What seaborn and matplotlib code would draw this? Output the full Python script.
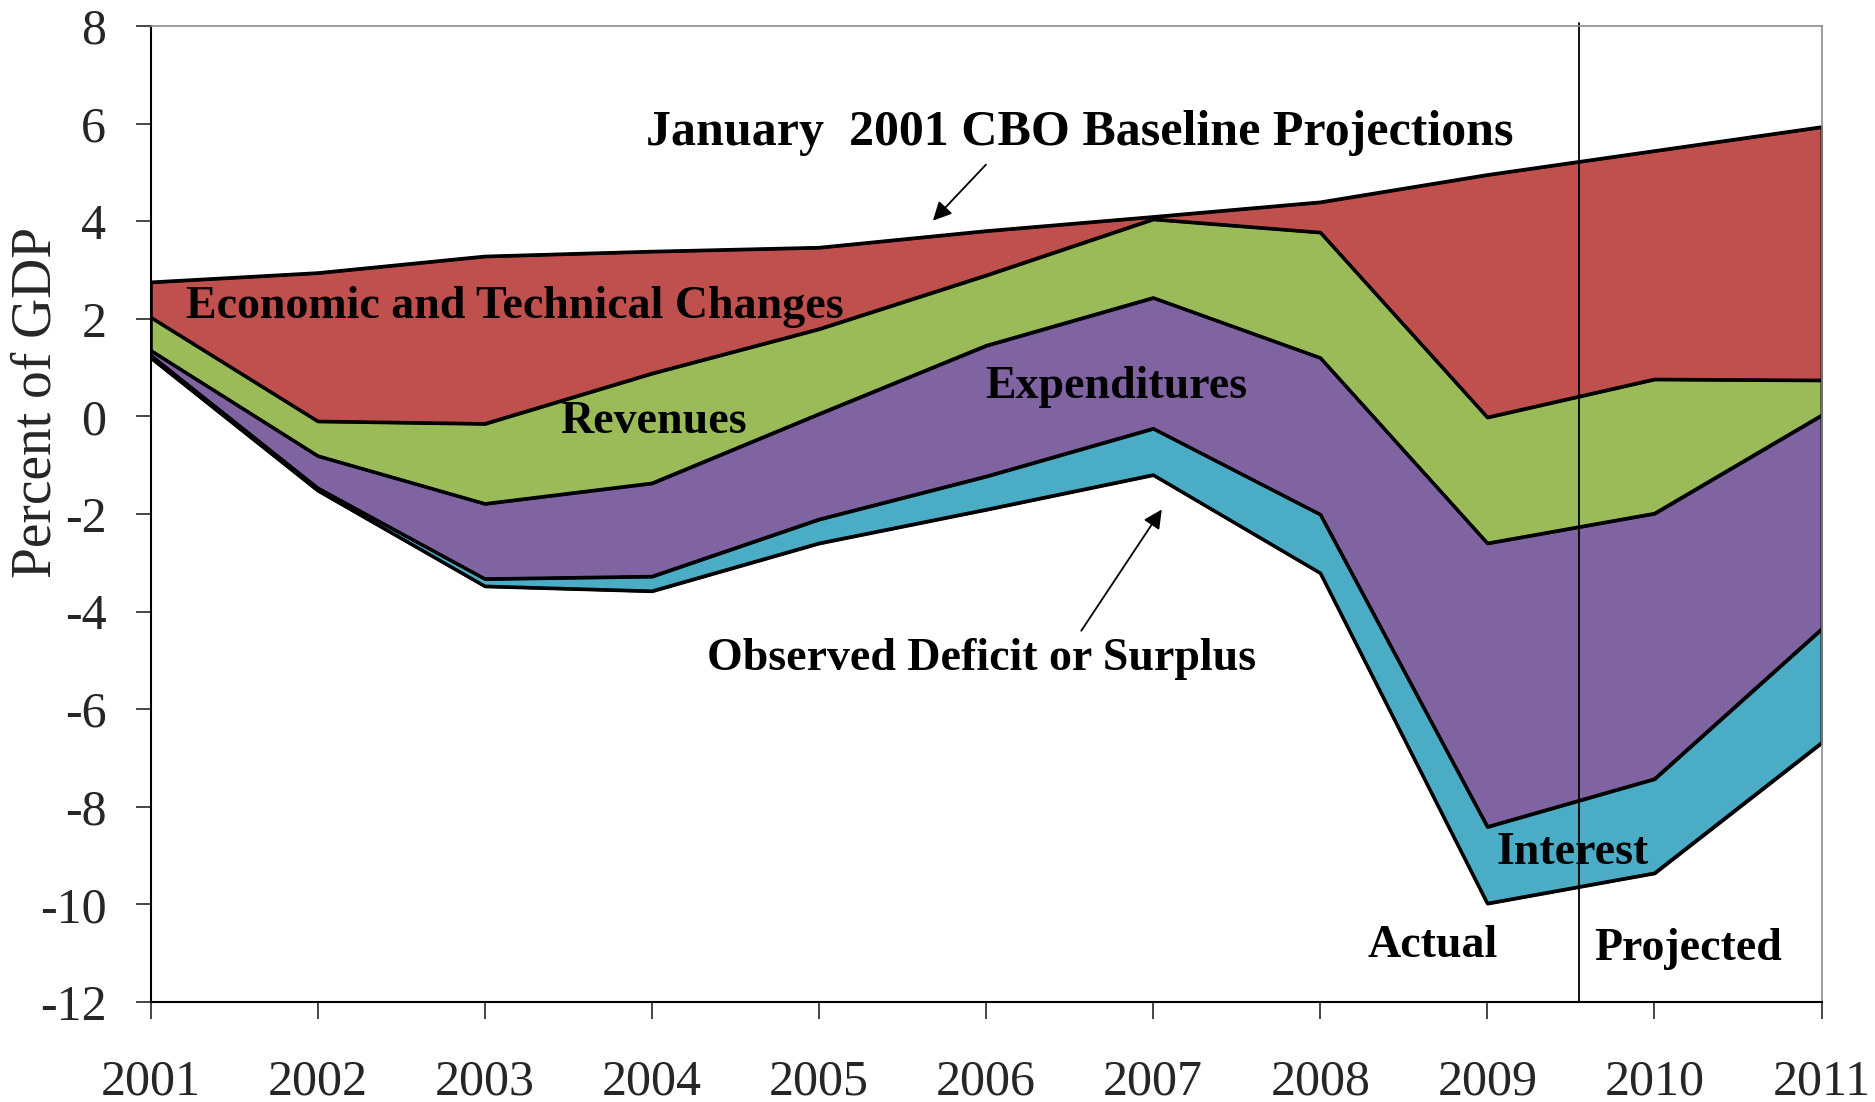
import numpy as np
import pandas as pd
import matplotlib
matplotlib.use('Agg')
import matplotlib.pyplot as plt
import seaborn as sns


# Data (percent of GDP)
years = [2001, 2002, 2003, 2004, 2005, 2006, 2007, 2008, 2009, 2010, 2011]
baseline = [2.75, 2.94, 3.28, 3.38, 3.46, 3.80, 4.09, 4.39, 4.95, 5.44, 5.93]
after_econ = [2.03, -0.10, -0.15, 0.88, 1.79, 2.89, 4.04, 3.77, -0.02, 0.76, 0.74]
after_revenues = [1.35, -0.81, -1.79, -1.37, 0.05, 1.45, 2.43, 1.20, -2.60, -1.99, 0.02]
after_expenditures = [1.25, -1.47, -3.33, -3.28, -2.11, -1.23, -0.25, -2.01, -8.41, -7.43, -4.36]
observed = [1.20, -1.52, -3.48, -3.58, -2.60, -1.91, -1.20, -3.21, -9.98, -9.36, -6.69]

band_names = ['Economic and Technical Changes', 'Revenues', 'Expenditures', 'Interest']
band_colors = ['#C0504D', '#9BBB59', '#8064A2', '#4BACC6']
y_ticks = list(range(-12, 9, 2))

df = pd.DataFrame({
    'year': years,
    'baseline': baseline,
    'after_econ': after_econ,
    'after_revenues': after_revenues,
    'after_expenditures': after_expenditures,
    'observed': observed,
})
bounds = ['baseline', 'after_econ', 'after_revenues', 'after_expenditures', 'observed']

# Set up plotting aesthetics
sns.set_style('white')
plt.rcParams['font.family'] = ['Liberation Serif', 'DejaVu Serif']
plt.rcParams['axes.unicode_minus'] = False

fig = plt.figure(figsize=(18.75, 11.02), dpi=100)
ax = fig.add_axes([0.0804, 0.0907, 0.8911, 0.8857])

# Stacked bands between successive boundary lines
for i, color in enumerate(band_colors):
    ax.fill_between(df['year'], df[bounds[i]], df[bounds[i + 1]],
                    facecolor=color, edgecolor='black', linewidth=2.2)

for col in bounds:
    sns.lineplot(data=df, x='year', y=col, color='black', linewidth=2.4, ax=ax, legend=False)

if ax.get_legend() is not None:
    ax.get_legend().remove()

# Actual / projected divider
ax.axvline(2009.55, ymin=0, ymax=1.003, color='black', linewidth=1.3, clip_on=False)

ax.set_xlim(2001, 2011)
ax.set_ylim(-12, 8)
ax.set_xticks(years)
ax.set_yticks(y_ticks)
ax.set_xticklabels([str(y) for y in years])
ax.set_yticklabels([str(t) for t in y_ticks])
ax.tick_params(axis='x', direction='out', length=12, width=1.2, pad=29, labelsize=36, bottom=True)
ax.tick_params(axis='y', direction='out', length=11, width=1.2, pad=21, labelsize=36, left=True)

ax.set_xlabel('')
ax.set_ylabel('Percent of GDP', fontsize=40)
ax.yaxis.label.set_verticalalignment('center')
ax.yaxis.set_label_coords(-0.0685, 0.614)

for side in ['left', 'bottom']:
    ax.spines[side].set_color('black')
    ax.spines[side].set_linewidth(1.5)
for side in ['top', 'right']:
    ax.spines[side].set_color('#8C8C8C')
    ax.spines[side].set_linewidth(1.2)

# Annotations
bold = dict(fontweight='bold', ha='center', va='center', color='black')
ax.text(2006.56, 5.81, 'January  2001 CBO Baseline Projections', fontsize=36, **bold)
ax.annotate('', xy=(2005.67, 3.97), xytext=(2006.01, 5.20),
            arrowprops=dict(arrowstyle='-|>', color='black', lw=1.3, mutation_scale=28))
ax.text(2003.18, 2.25, 'Economic and Technical Changes', fontsize=33, **bold)
ax.text(2004.01, -0.12, 'Revenues', fontsize=33, **bold)
ax.text(2006.78, 0.61, 'Expenditures', fontsize=33, **bold)
ax.text(2005.97, -4.98, 'Observed Deficit or Surplus', fontsize=33, **bold)
ax.annotate('', xy=(2007.06, -1.86), xytext=(2006.56, -4.44),
            arrowprops=dict(arrowstyle='-|>', color='black', lw=1.3, mutation_scale=28))
ax.text(2009.51, -8.95, 'Interest', fontsize=33, **bold)
ax.text(2008.67, -10.86, 'Actual', fontsize=33, **bold)
ax.text(2010.20, -10.91, 'Projected', fontsize=33, **bold)

fig.savefig('out.png', dpi=100)
